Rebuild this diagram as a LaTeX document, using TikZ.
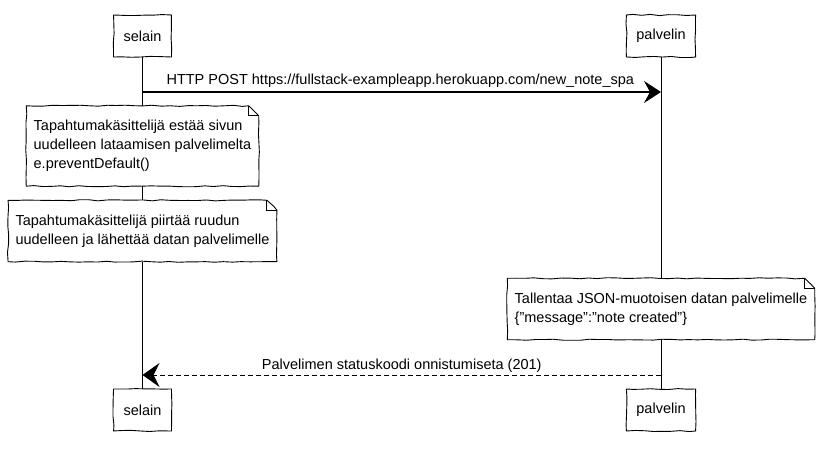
\documentclass[tikz,border=0pt]{standalone}
\usepackage{fontspec}
\setmainfont{Liberation Sans}
\usetikzlibrary{arrows.meta,decorations.pathmorphing}

\tikzset{
  sketch/.style={decorate, decoration={random steps, segment length=9pt, amplitude=0.6pt}},
  actor/.style={draw, sketch, minimum height=42pt, inner xsep=10pt},
  notetext/.style={align=left, inner xsep=7pt, inner ysep=14pt},
  msg/.style={-{Stealth[length=17pt,width=22pt,inset=6pt]}, line width=1.4pt},
  reply/.style={-{Stealth[length=17pt,width=24pt,inset=6pt]}, line width=0.9pt, dash pattern=on 5pt off 3pt}
}

% note outline with folded corner
\newcommand{\notebox}[1]{%
  \draw[sketch] (#1.south west) -- (#1.north west) -- ([xshift=-10pt]#1.north east)
    -- ([yshift=-10pt]#1.north east) -- (#1.south east) -- cycle;
  \draw ([xshift=-10pt]#1.north east) -- ++(0,-10pt) -- ([yshift=-10pt]#1.north east);}

\begin{document}
\begin{tikzpicture}[x=1pt, y=-1pt, line width=0.9pt, font={\fontsize{14.5}{19}\selectfont}]
    \pgfmathsetseed{7}
    \useasboundingbox (0,0) rectangle (825,454);
    \node[actor] (selainA) at (142.5,36) {selain};
    \node[actor] (palvelinA) at (661,36) {palvelin};
    \node[actor] (selainB) at (142.5,410) {selain};
    \node[actor] (palvelinB) at (661,410) {palvelin};
    \node[notetext] (noteA) at (142.5,146) {Tapahtumakäsittelijä estää sivun\\uudelleen lataamisen palvelimelta\\e.preventDefault()};
    \node[notetext] (noteB) at (142.5,231) {Tapahtumakäsittelijä piirtää ruudun\\uudelleen ja lähettää datan palvelimelle};
    \node[notetext] (noteC) at (661,309) {Tallentaa JSON-muotoisen datan palvelimelle\\\{"message":"note created"\}};
    \notebox{noteA}
    \notebox{noteB}
    \notebox{noteC}
    % lifelines
    \draw (selainA) -- (noteA);
    \draw (noteA) -- (noteB);
    \draw (noteB) -- (selainB);
    \draw (palvelinA) -- (noteC);
    \draw (noteC) -- (palvelinB);
    % messages
    \coordinate (postA) at (142.5,92);
    \coordinate (postB) at (661,92);
    \draw[msg] (postA) -- node[above right, pos=0, xshift=20pt] {HTTP POST https://fullstack-exampleapp.herokuapp.com/new\_note\_spa} (postB);
    \coordinate (replyA) at (661,375);
    \coordinate (replyB) at (142.5,375);
    \draw[reply] (replyA) -- node[above, pos=0.5, inner sep=2pt] {Palvelimen statuskoodi onnistumiseta (201)} (replyB);
\end{tikzpicture}
\end{document}
